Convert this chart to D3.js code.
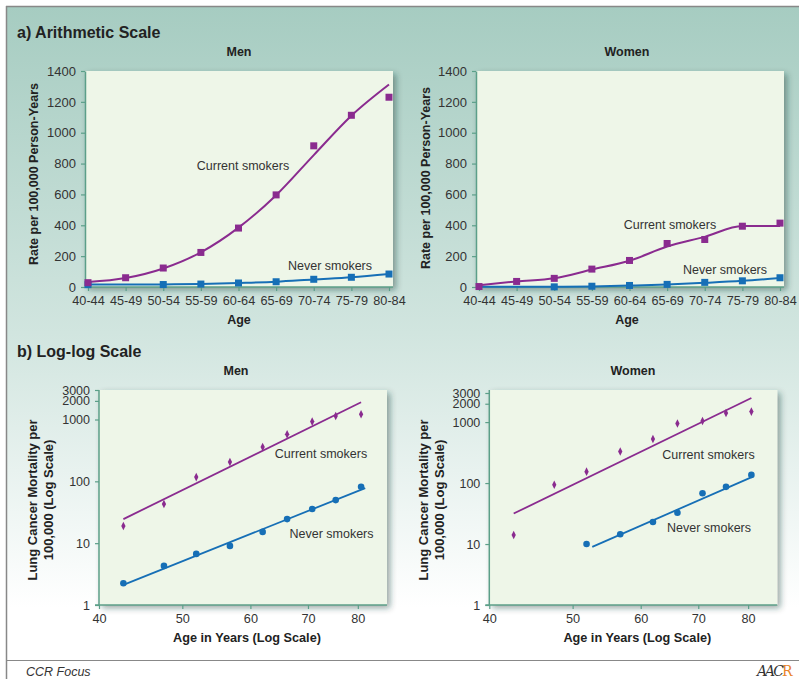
<!DOCTYPE html>
<html>
<head>
<meta charset="utf-8">
<script src="https://cdn.jsdelivr.net/npm/d3@7"></script>
<style>
  body { margin: 0; background: #fff; }
  svg { display: block; font-family: "Liberation Sans", Arial, sans-serif; }
</style>
</head>
<body>
<div id="chart"></div>
<script>
// age groups for the arithmetic panels
const ageGroups = ['40-44', '45-49', '50-54', '55-59', '60-64', '65-69', '70-74', '75-79', '80-84'];
const rateTicks = [0, 200, 400, 600, 800, 1000, 1200, 1400];

// arithmetic scale, rate per 100,000 person-years (points and fitted curve)
const currentMen = [28, 60, 123, 224, 382, 597, 915, 1113, 1230];
const currentMenFit = [32, 58, 120, 225, 385, 595, 855, 1110, 1312];
const neverMen = [15, null, 16, 19, 26, 34, 50, 63, 84];
const neverMenFit = [16, 16, 17, 20, 26, 34, 49, 63, 84];
const currentWomen = [3, 36, 56, 116, 172, 282, 308, 394, 414];
const currentWomenFit = [12, 36, 56, 113, 170, 262, 325, 395, 395];
const neverWomen = [null, null, 1, 5, 10, 17, 30, 40, 60];
const neverWomenFit = [2, 2, 2, 4, 9, 16, 27, 40, 58];

// log-log scale, age in years and mortality per 100,000
const logAges = [42.7, 47.6, 51.9, 56.8, 62.0, 66.2, 70.8, 75.4, 80.7];
const ageTicks = [40, 50, 60, 70, 80];
const mortalityTicks = [1, 10, 100, 1000, 2000, 3000];
const logCurrentMen = [18.9, 42.9, 117, 205, 360, 575, 925, 1143, 1214];
const logNeverMen = [2.25, 4.29, 6.71, 9.04, 15.2, 24.5, 35.6, 49.7, 81.7];
const logCurrentWomen = [14.1, 93.7, 154, 329, 527, 951, 1039, 1413, 1485];
const logNeverWomen = [null, null, 10, 14.5, 23, 32.5, 68, 86.7, 136];
// regression lines: [age, mortality] at both ends
const logCurrentMenFit = [[42.7, 24.5], [80.7, 1900]];
const logNeverMenFit = [[42.7, 2.11], [81.6, 77.9]];
const logCurrentWomenFit = [[42.7, 31.6], [80.7, 2483]];
const logNeverWomenFit = [[52.7, 9.0], [80.9, 126]];

const purple = '#8a2b8f';
const blue = '#166fb6';
const axisColor = '#5c9f89';
const textColor = '#333';

const W = 799, H = 679;
const svg = d3.select('#chart').append('svg')
  .attr('width', W)
  .attr('height', H);

const defs = svg.append('defs');
const grad = defs.append('linearGradient')
  .attr('id', 'bg').attr('x1', 0).attr('y1', 0).attr('x2', 0).attr('y2', 1);
grad.append('stop').attr('offset', '0%').attr('stop-color', '#a6ccc1');
grad.append('stop').attr('offset', '50%').attr('stop-color', '#d1e5df');
grad.append('stop').attr('offset', '92%').attr('stop-color', '#ffffff');

const shadow = defs.append('filter').attr('id', 'shadow')
  .attr('x', '-10%').attr('y', '-10%').attr('width', '130%').attr('height', '130%');
shadow.append('feDropShadow')
  .attr('dx', 3).attr('dy', 3).attr('stdDeviation', 3)
  .attr('flood-color', '#1d3a33').attr('flood-opacity', 0.45);

// frame and background
svg.append('rect')
  .attr('x', 6).attr('y', 6).attr('width', W - 6).attr('height', 654)
  .attr('fill', 'url(#bg)');
svg.append('line').attr('x1', 6).attr('x2', W).attr('y1', 6.5).attr('y2', 6.5)
  .attr('stroke', '#888').attr('stroke-width', 1.5);
svg.append('line').attr('x1', 6.5).attr('x2', 6.5).attr('y1', 6).attr('y2', H)
  .attr('stroke', '#888').attr('stroke-width', 1.5);
svg.append('line').attr('x1', 6).attr('x2', W).attr('y1', 660.5).attr('y2', 660.5)
  .attr('stroke', '#888').attr('stroke-width', 1.2);

svg.append('text').attr('x', 26).attr('y', 676)
  .style('font-size', '12.5px').style('font-style', 'italic').attr('fill', textColor)
  .text('CCR Focus');
const logo = svg.append('text').attr('x', 757).attr('y', 676)
  .style('font-size', '14px').style('font-style', 'italic')
  .style('font-family', '"DejaVu Serif", serif').style('letter-spacing', '-2px');
logo.append('tspan').attr('fill', '#333').text('AAC');
logo.append('tspan').attr('fill', '#e8842a').style('font-style', 'normal').text('R');

function title(x, y, txt, size, anchor) {
  svg.append('text')
    .attr('x', x).attr('y', y).attr('dy', '0.35em')
    .attr('text-anchor', anchor || 'middle')
    .style('font-size', size + 'px').style('font-weight', 'bold')
    .attr('fill', '#222')
    .text(txt);
}

title(17, 32, 'a) Arithmetic Scale', 16, 'start');
title(17, 351, 'b) Log-log Scale', 16, 'start');

function styleAxis(g, size) {
  g.select('.domain').attr('stroke', axisColor).attr('stroke-width', 1.5);
  g.selectAll('.tick line').attr('stroke', axisColor).attr('stroke-width', 1.2);
  g.selectAll('.tick text').attr('fill', textColor).style('font-size', size + 'px')
    .style('font-family', '"Liberation Sans", Arial, sans-serif');
}

function squares(g, x, y, values, color) {
  g.selectAll(null)
    .data(values.map((v, i) => [ageGroups[i], v]).filter(d => d[1] != null))
    .enter().append('rect')
    .attr('x', d => x(d[0]) - 3.5)
    .attr('y', d => y(d[1]) - 3.5)
    .attr('width', 7).attr('height', 7)
    .attr('fill', color);
}

// arithmetic panels
function arithPanel(p) {
  const x = d3.scalePoint().domain(ageGroups).range([p.left + 3, p.right - 4]);
  const y = d3.scaleLinear().domain([0, 1400]).range([287, 71]);
  const g = svg.append('g');

  g.append('rect')
    .attr('x', p.left).attr('y', 71)
    .attr('width', p.right - p.left).attr('height', 287 - 71)
    .attr('fill', '#eef6e8').attr('filter', 'url(#shadow)');

  const yAxis = g.append('g').attr('transform', `translate(${p.left},0)`)
    .call(d3.axisLeft(y).tickValues(rateTicks).tickFormat(d3.format('d'))
      .tickSize(4).tickPadding(5).tickSizeOuter(0));
  styleAxis(yAxis, 13);
  const xAxis = g.append('g').attr('transform', 'translate(0,287)')
    .call(d3.axisBottom(x).tickSize(4).tickPadding(5).tickSizeOuter(0));
  xAxis.select('.domain').attr('d', `M${p.left},0H${p.right}`);
  styleAxis(xAxis, 12.7);

  const line = d3.line()
    .x((d, i) => x(ageGroups[i]))
    .y(d => y(d))
    .curve(d3.curveMonotoneX);
  g.append('path').attr('d', line(p.neverFit))
    .attr('fill', 'none').attr('stroke', blue).attr('stroke-width', 2);
  g.append('path').attr('d', line(p.currentFit))
    .attr('fill', 'none').attr('stroke', purple).attr('stroke-width', 2);
  squares(g, x, y, p.never, blue);
  squares(g, x, y, p.current, purple);

  g.append('text').attr('x', p.curLabel[0]).attr('y', p.curLabel[1]).attr('dy', '0.35em')
    .attr('text-anchor', 'middle').style('font-size', '12.5px').attr('fill', textColor)
    .text('Current smokers');
  g.append('text').attr('x', p.neverLabel[0]).attr('y', p.neverLabel[1]).attr('dy', '0.35em')
    .attr('text-anchor', 'middle').style('font-size', '12.5px').attr('fill', textColor)
    .text('Never smokers');

  title(p.titleX, 52, p.name, 12.5);
  title(p.titleX, 320, 'Age', 12.5);
  svg.append('text')
    .attr('transform', `translate(${p.yTitle[0]},${p.yTitle[1]}) rotate(-90)`)
    .attr('dy', '0.35em').attr('text-anchor', 'middle')
    .style('font-size', '12.5px').style('font-weight', 'bold').attr('fill', '#222')
    .text('Rate per 100,000 Person-Years');
}

arithPanel({
  name: 'Men', left: 85, right: 393, titleX: 239,
  current: currentMen, currentFit: currentMenFit, never: neverMen, neverFit: neverMenFit,
  curLabel: [243, 166], neverLabel: [330, 266], yTitle: [33.5, 174]
});
arithPanel({
  name: 'Women', left: 476, right: 784, titleX: 627,
  current: currentWomen, currentFit: currentWomenFit, never: neverWomen, neverFit: neverWomenFit,
  curLabel: [670, 224.5], neverLabel: [725, 270], yTitle: [425.5, 178]
});

// log-log panels
function logPanel(p) {
  const x = d3.scaleLog().domain([40, 86.5]).range([p.left, p.left + 288]);
  const y = d3.scaleLog().domain([1, 3000]).range([605, p.yTop]);
  const g = svg.append('g');

  g.append('rect')
    .attr('x', p.left).attr('y', 390)
    .attr('width', 288).attr('height', 605 - 390)
    .attr('fill', '#eef6e8').attr('filter', 'url(#shadow)');

  const yAxis = g.append('g').attr('transform', `translate(${p.left},0)`)
    .call(d3.axisLeft(y).tickValues(mortalityTicks).tickFormat(d3.format('d'))
      .tickSize(4).tickPadding(5).tickSizeOuter(0));
  yAxis.select('.domain').attr('d', 'M0,605V390');
  styleAxis(yAxis, 12.5);
  const xAxis = g.append('g').attr('transform', 'translate(0,605)')
    .call(d3.axisBottom(x).tickValues(ageTicks).tickFormat(d3.format('d'))
      .tickSize(4).tickPadding(5).tickSizeOuter(0));
  xAxis.select('.domain').attr('d', `M${p.left - 4},0H${p.left + 288}`);
  styleAxis(xAxis, 12.7);

  const line = d3.line().x(d => x(d[0])).y(d => y(d[1]));
  g.append('path').attr('d', line(p.neverFit))
    .attr('fill', 'none').attr('stroke', blue).attr('stroke-width', 1.8);
  g.append('path').attr('d', line(p.currentFit))
    .attr('fill', 'none').attr('stroke', purple).attr('stroke-width', 1.8);

  g.selectAll(null)
    .data(p.never.map((v, i) => [logAges[i], v]).filter(d => d[1] != null))
    .enter().append('circle')
    .attr('cx', d => x(d[0])).attr('cy', d => y(d[1])).attr('r', 3.3)
    .attr('fill', blue);
  g.selectAll(null)
    .data(p.current.map((v, i) => [logAges[i], v]))
    .enter().append('path')
    .attr('d', d3.symbol(d3.symbolDiamond, 16))
    .attr('transform', d => `translate(${x(d[0])},${y(d[1])}) scale(1,1.15)`)
    .attr('fill', purple);

  g.append('text').attr('x', p.curLabel[0]).attr('y', p.curLabel[1]).attr('dy', '0.35em')
    .attr('text-anchor', 'middle').style('font-size', '12.5px').attr('fill', textColor)
    .text('Current smokers');
  g.append('text').attr('x', p.neverLabel[0]).attr('y', p.neverLabel[1]).attr('dy', '0.35em')
    .attr('text-anchor', 'middle').style('font-size', '12.5px').attr('fill', textColor)
    .text('Never smokers');

  title(p.titleX, 371, p.name, 12.5);
  title(p.left + 148, 637.5, 'Age in Years (Log Scale)', 12.7);
  const yt = svg.append('text')
    .attr('transform', `translate(${p.yTitle},500) rotate(-90)`)
    .attr('text-anchor', 'middle')
    .style('font-size', '13px').style('font-weight', 'bold').attr('fill', '#222');
  yt.append('tspan').attr('x', 0).attr('dy', '0.35em').text('Lung Cancer Mortality per');
  yt.append('tspan').attr('x', 0).attr('dy', '1.3em').text('100,000 (Log Scale)');
}

logPanel({
  name: 'Men', left: 99, yTop: 390, titleX: 236,
  current: logCurrentMen, currentFit: logCurrentMenFit, never: logNeverMen, neverFit: logNeverMenFit,
  curLabel: [321, 454], neverLabel: [331.5, 533.5], yTitle: 32
});
logPanel({
  name: 'Women', left: 489.3, yTop: 393, titleX: 633,
  current: logCurrentWomen, currentFit: logCurrentWomenFit, never: logNeverWomen, neverFit: logNeverWomenFit,
  curLabel: [708.5, 455], neverLabel: [709, 527.5], yTitle: 423
});
</script>
</body>
</html>
